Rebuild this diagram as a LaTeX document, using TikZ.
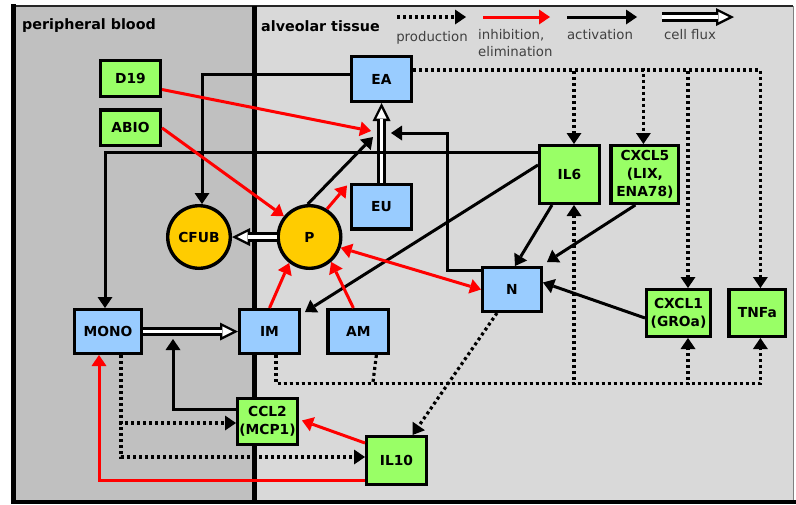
\documentclass[tikz,border=0pt]{standalone}
\usepackage{fontspec}
\setmainfont{DejaVu Sans}
\usetikzlibrary{positioning, arrows.meta}
\definecolor{cytgreen}{HTML}{99FF66}
\definecolor{cellblue}{HTML}{99CCFF}
\definecolor{bactyellow}{HTML}{FFCC00}
\definecolor{bloodgray}{HTML}{C0C0C0}
\definecolor{tissuegray}{HTML}{D9D9D9}
\tikzset{
  box/.style={draw, line width=3.4pt, font=\bfseries\fontsize{13.8}{18}\selectfont, align=center, inner sep=1pt},
  cytokine/.style={box, fill=cytgreen},
  cell/.style={box, fill=cellblue},
  bact/.style={box, circle, fill=bactyellow, minimum size=62.6pt},
  title/.style={font=\bfseries\fontsize{14.3}{16}\selectfont, inner sep=0pt, anchor=west},
  legend/.style={font=\fontsize{13.3}{17}\selectfont, text=black!75, inner sep=0pt},
  act/.style={line width=3pt, ->},
  inh/.style={act, red},
  prod/.style={line width=3.2pt, dash pattern=on 3pt off 3pt, ->},
  flux/.style={line width=9.5pt, -{Triangle[length=18pt,width=18pt,line width=0pt]},
    postaction={draw=white, line width=3.8pt, shorten >=5.4pt,
      -{Triangle[length=10.2pt,width=10.2pt,line width=0pt]}}},
}
\begin{document}
\begin{tikzpicture}[x=1pt, y=-1pt, >={Triangle[length=11pt,width=15pt,line width=0pt]}]
    \useasboundingbox (0,0) rectangle (796,504);
    % compartments
    \fill[white] (0,0) rectangle (796,504);
    \fill[bloodgray] (13.5,6) rectangle (254.5,502);
    \fill[tissuegray] (254.5,6) rectangle (793,502);
    \draw[black!85, line width=2.5pt] (12,6) -- (793,6);
    \draw[black!50, line width=1pt] (793,6) -- (793,502);
    \draw[line width=4.5pt] (11,502) -- (796,502);
    \draw[line width=5pt] (13.5,4) -- (13.5,504);
    \draw[line width=5pt] (254.5,6) -- (254.5,504);
    \node (blood) [title] at (22,26) {peripheral blood};
    \node (tissue) [title] at (261,26) {alveolar tissue};

    % legend
    \coordinate (lgA1) at (397,17); \coordinate (lgA2) at (466,17);
    \coordinate (lgB1) at (483,17); \coordinate (lgB2) at (550,17);
    \coordinate (lgC1) at (567,17); \coordinate (lgC2) at (637,17);
    \coordinate (lgD1) at (662,17); \coordinate (lgD2) at (734,17);
    \draw[prod] (lgA1) -- (lgA2);
    \draw[inh] (lgB1) -- (lgB2);
    \draw[act] (lgC1) -- (lgC2);
    \draw[flux] (lgD1) -- (lgD2);
    \node (lgprod) [legend] at (432,38) {production};
    \node (lginh) [legend, align=left, anchor=west] at (478,43) {inhibition,\\elimination};
    \node (lgact) [legend] at (600,35) {activation};
    \node (lgflux) [legend] at (690,35) {cell flux};

    % nodes
    \node (D19) [cytokine, minimum width=59.6pt, minimum height=35.6pt] at (130.5,78.5) {D19};
    \node (ABIO) [cytokine, minimum width=59.6pt, minimum height=35.6pt, below=10.4pt of D19] {ABIO};
    \node (EA) [cell, minimum width=59.6pt, minimum height=44.6pt] at (381.5,79) {EA};
    \node (EU) [cell, minimum width=59.6pt, minimum height=44.6pt] at (381.5,206.5) {EU};
    \node (P) [bact] at (309.5,237) {P};
    \node (CFUB) [bact] at (199,237) {CFUB};
    \node (IL6) [cytokine, minimum width=59.6pt, minimum height=57.6pt] at (569.5,174.5) {IL6};
    \node (CXCL5) [cytokine, minimum width=67.6pt, minimum height=57.6pt, right=8.4pt of IL6] {CXCL5\\(LIX,\\ENA78)};
    \node (N) [cell, minimum width=58.6pt, minimum height=43.6pt] at (512,289.5) {N};
    \node (CXCL1) [cytokine, minimum width=63.6pt, minimum height=46.6pt] at (678.5,313) {CXCL1\\(GROa)};
    \node (TNFa) [cytokine, minimum width=56.6pt, minimum height=46.6pt, right=15.4pt of CXCL1] {TNFa};
    \node (MONO) [cell, minimum width=66.6pt, minimum height=43.6pt] at (108,331.5) {MONO};
    \node (IM) [cell, minimum width=59.6pt, minimum height=43.6pt] at (269.5,331.5) {IM};
    \node (AM) [cell, minimum width=60.6pt, minimum height=43.6pt, right=25.4pt of IM] {AM};
    \node (CCL2) [cytokine, minimum width=59.6pt, minimum height=45.6pt] at (267.5,421.5) {CCL2\\(MCP1)};
    \node (IL10) [cytokine, minimum width=59.6pt, minimum height=47.6pt] at (396.5,460.5) {IL10};

    % points on the EU -> EA and MONO -> IM fluxes
    \coordinate (fluxL) at (371,131);
    \coordinate (fluxP) at (373,137);
    \coordinate (fluxN) at (391,133);
    \coordinate (fluxM) at (173,339);
    \coordinate (busAM) at (373,382);

    % production
    \draw[prod] ([yshift=9pt]EA.east) -| ([xshift=4.5pt]IL6.north);
    \draw[prod] ([yshift=9pt]EA.east) -| ([xshift=-1.5pt]CXCL5.north);
    \draw[prod] ([yshift=9pt]EA.east) -| ([xshift=9.5pt]CXCL1.north);
    \draw[prod] ([yshift=9pt]EA.east) -| ([xshift=3pt]TNFa.north);
    \draw[prod] ([xshift=6.5pt]IM.south) -- ++(0,28.5) -| ([xshift=4.5pt]IL6.south);
    \draw[prod] ([xshift=6.5pt]IM.south) -- ++(0,28.5) -| ([xshift=9.5pt]CXCL1.south);
    \draw[prod] ([xshift=6.5pt]IM.south) -- ++(0,28.5) -| ([xshift=3pt]TNFa.south);
    \draw[prod, -] ([xshift=18pt]AM.south) -- (busAM);
    \draw[prod] ([xshift=-15pt]N.south) -- ([xshift=16pt]IL10.north);
    \draw[prod] ([xshift=13pt]MONO.south) |- ([yshift=-1.5pt]CCL2.west);
    \draw[prod] ([xshift=13pt]MONO.south) |- ([yshift=3.5pt]IL10.west);

    % cell flux
    \draw[flux] (EU) -- (EA);
    \draw[flux] (P) -- (CFUB);
    \draw[flux] (MONO) -- (IM);

    % activation
    \draw[act] ([yshift=5pt]EA.west) -| ([xshift=3pt]CFUB.north);
    \draw[act] ([yshift=22.5pt]IL6.west) -| ([xshift=-3pt]MONO.north);
    \draw[act] (P.93) -- (fluxP);
    \draw[act] ([yshift=19.5pt]N.west) -| ([xshift=56pt]fluxN) -- (fluxN);
    \draw[act] ([yshift=9.5pt]IL6.west) -- ([shift={(4pt,-4pt)}]IM.north east);
    \draw[act] ([xshift=-17.5pt]IL6.south) -- ([xshift=3pt]N.north);
    \draw[act] ([xshift=-9.5pt]CXCL5.south) -- ([shift={(4pt,4pt)}]N.north east);
    \draw[act] ([yshift=-5pt]CXCL1.west) -- ([yshift=7pt]N.east);
    \draw[act] ([yshift=12pt]CCL2.west) -| (fluxM);

    % inhibition, elimination
    \draw[inh] ([yshift=-11pt]D19.east) -- (fluxL);
    \draw[inh] (ABIO.east) -- (P.141);
    \draw[inh] (P.58) -- ([shift={(-3pt,-3pt)}]EU.north west);
    \draw[inh, <->] (P.-19) -- (N.west);
    \draw[inh] (IM.north) -- (P.-128);
    \draw[inh] ([xshift=-5pt]AM.north) -- (P.-49);
    \draw[inh] ([yshift=17.5pt]IL10.west) -- ([shift={(3pt,1pt)}]CCL2.east);
    \draw[inh] ([yshift=-19.5pt]IL10.west) -| ([xshift=-9pt]MONO.south);
\end{tikzpicture}
\end{document}
